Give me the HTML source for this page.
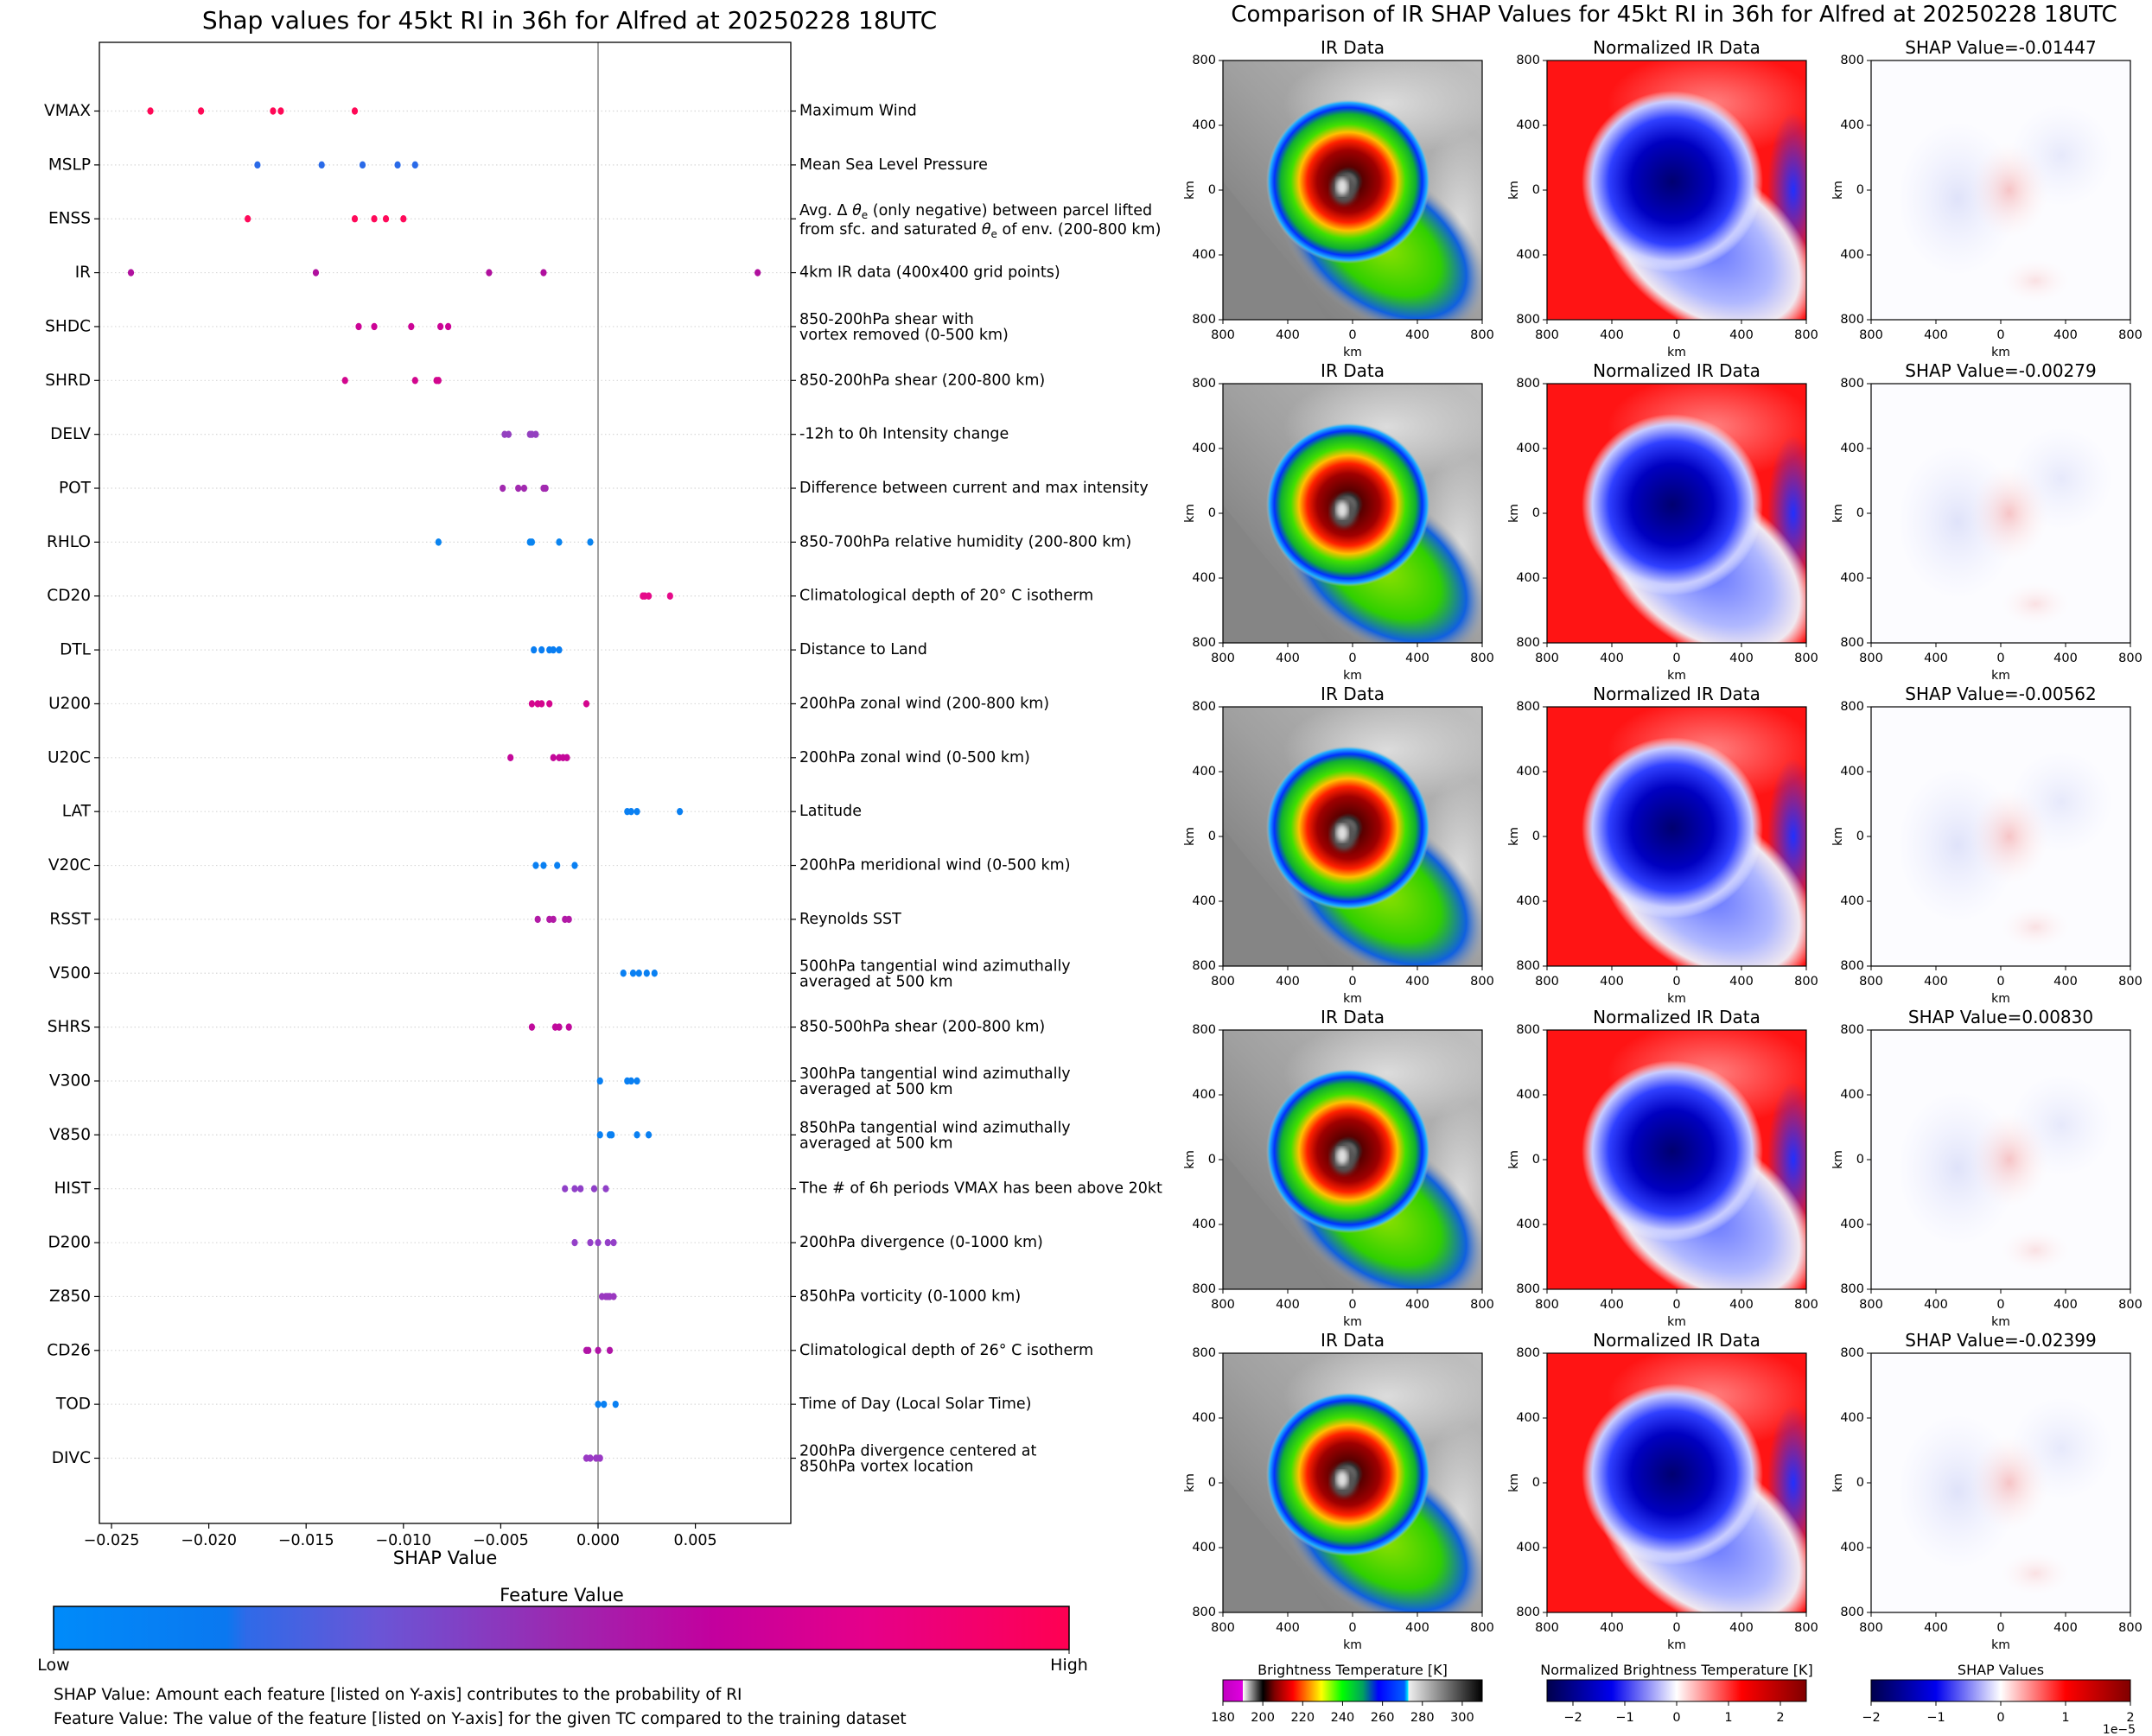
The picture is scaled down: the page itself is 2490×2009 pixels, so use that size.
<!DOCTYPE html>
<html><head><meta charset="utf-8"><style>
html,body{margin:0;padding:0;background:#fff}
svg{display:block;font-family:"DejaVu Sans","Liberation Sans",sans-serif}
</style></head><body>
<svg id="root" width="2490" height="2009" viewBox="0 0 2490 2009" xmlns="http://www.w3.org/2000/svg">
<defs>
  <clipPath id="pclip"><rect x="0" y="0" width="300" height="300"/></clipPath>
  <filter id="soft" x="-10%" y="-10%" width="120%" height="120%"><feGaussianBlur stdDeviation="3"/></filter>
  <linearGradient id="fvGrad" x1="0" x2="1" y1="0" y2="0">
    <stop offset="0" stop-color="#008bfa"/><stop offset="0.17" stop-color="#0a78f0"/><stop offset="0.19" stop-color="#2f6ae8"/>
    <stop offset="0.32" stop-color="#6a55d6"/><stop offset="0.5" stop-color="#9c28b0"/><stop offset="0.65" stop-color="#c3009e"/>
    <stop offset="0.8" stop-color="#e5008a"/><stop offset="1" stop-color="#ff0052"/>
  </linearGradient>
  <linearGradient id="irCb" x1="0" x2="1">
    <stop offset="0" stop-color="#c000c0"/><stop offset="0.077" stop-color="#e000e0"/><stop offset="0.077" stop-color="#ffffff"/>
    <stop offset="0.154" stop-color="#000000"/><stop offset="0.2" stop-color="#800000"/><stop offset="0.27" stop-color="#ff0000"/>
    <stop offset="0.38" stop-color="#ffff00"/><stop offset="0.46" stop-color="#00ff00"/><stop offset="0.54" stop-color="#00a060"/>
    <stop offset="0.6" stop-color="#0000ff"/><stop offset="0.7" stop-color="#0060ff"/><stop offset="0.715" stop-color="#00ffff"/>
    <stop offset="0.715" stop-color="#f0f0f0"/><stop offset="1" stop-color="#000000"/>
  </linearGradient>
  <linearGradient id="seis" x1="0" x2="1">
    <stop offset="0" stop-color="#00004c"/><stop offset="0.25" stop-color="#0000ee"/><stop offset="0.5" stop-color="#ffffff"/>
    <stop offset="0.75" stop-color="#ff0000"/><stop offset="1" stop-color="#800000"/>
  </linearGradient>
  <linearGradient id="irBg" x1="0" y1="1" x2="1" y2="0">
    <stop offset="0" stop-color="#707070"/><stop offset="0.5" stop-color="#a0a0a0"/><stop offset="1" stop-color="#c0c0c0"/>
  </linearGradient>
  <radialGradient id="irStorm">
    <stop offset="0" stop-color="#d0d0d0"/><stop offset="0.12" stop-color="#303030"/><stop offset="0.18" stop-color="#5a0000"/>
    <stop offset="0.38" stop-color="#a00000"/><stop offset="0.5" stop-color="#ff2000"/><stop offset="0.6" stop-color="#ffc000"/>
    <stop offset="0.7" stop-color="#40e000"/><stop offset="0.82" stop-color="#10b030"/><stop offset="0.9" stop-color="#0030ff"/>
    <stop offset="0.96" stop-color="#20b0ff"/><stop offset="1" stop-color="#c0c0c0" stop-opacity="0"/>
  </radialGradient>
  <radialGradient id="irBand">
    <stop offset="0" stop-color="#90e000"/><stop offset="0.55" stop-color="#30d000"/><stop offset="0.8" stop-color="#1060e0"/>
    <stop offset="1" stop-color="#a0a0a0" stop-opacity="0"/>
  </radialGradient>
  <radialGradient id="nStorm">
    <stop offset="0" stop-color="#000070"/><stop offset="0.45" stop-color="#0000c0"/><stop offset="0.7" stop-color="#3040ff"/>
    <stop offset="0.88" stop-color="#c8ccff"/><stop offset="1" stop-color="#ffffff" stop-opacity="0"/>
  </radialGradient>
  <radialGradient id="nBand">
    <stop offset="0" stop-color="#6070ff"/><stop offset="0.6" stop-color="#b0b8ff"/><stop offset="0.85" stop-color="#f0e8f0"/>
    <stop offset="1" stop-color="#ffffff" stop-opacity="0"/>
  </radialGradient>
  <radialGradient id="sRed"><stop offset="0" stop-color="#f4a0a0"/><stop offset="1" stop-color="#ffe8e8" stop-opacity="0"/></radialGradient>
  <radialGradient id="sBlue"><stop offset="0" stop-color="#d8dcf8"/><stop offset="1" stop-color="#e8eaff" stop-opacity="0"/></radialGradient>
  <radialGradient id="fadeW"><stop offset="0" stop-color="#dcdcdc"/><stop offset="1" stop-color="#dcdcdc" stop-opacity="0"/></radialGradient>
  <radialGradient id="fadeR"><stop offset="0" stop-color="#ff8080"/><stop offset="1" stop-color="#ff8080" stop-opacity="0"/></radialGradient>
  <radialGradient id="fadeB"><stop offset="0" stop-color="#2030ff"/><stop offset="1" stop-color="#2030ff" stop-opacity="0"/></radialGradient>
  <g id="irImg" clip-path="url(#pclip)">
    <rect x="0" y="0" width="300" height="300" fill="url(#irBg)"/>
    <path d="M0,140 L40,190 L90,250 L120,300 L0,300 Z" fill="#858585"/>
    <ellipse cx="190" cy="50" rx="120" ry="60" fill="url(#fadeW)"/>
    <ellipse cx="275" cy="190" rx="50" ry="110" fill="url(#fadeW)"/>
    <ellipse cx="185" cy="215" rx="135" ry="85" transform="rotate(35 185 215)" fill="url(#irBand)"/>
    <circle cx="145" cy="140" r="95" fill="url(#irStorm)"/>
    <ellipse cx="140" cy="148" rx="15" ry="18" fill="#555" filter="url(#soft)"/>
    <ellipse cx="138" cy="146" rx="7" ry="10" fill="#e0e0e0" filter="url(#soft)"/>
  </g>
  <g id="nImg" clip-path="url(#pclip)">
    <rect x="0" y="0" width="300" height="300" fill="#ff1414"/>
    <ellipse cx="190" cy="50" rx="120" ry="60" fill="url(#fadeR)"/>
    <ellipse cx="285" cy="150" rx="30" ry="90" fill="url(#fadeB)"/>
    <ellipse cx="185" cy="215" rx="140" ry="90" transform="rotate(35 185 215)" fill="url(#nBand)"/>
    <circle cx="145" cy="140" r="105" fill="url(#nStorm)"/>
  </g>
  <g id="sImg" clip-path="url(#pclip)">
    <rect x="0" y="0" width="300" height="300" fill="#fcfcff"/>
    <ellipse cx="100" cy="160" rx="70" ry="90" fill="url(#sBlue)" opacity="0.8"/>
    <ellipse cx="220" cy="110" rx="60" ry="60" fill="url(#sBlue)" opacity="0.6"/>
    <ellipse cx="160" cy="150" rx="45" ry="55" fill="url(#sRed)" opacity="0.6"/>
    <ellipse cx="190" cy="255" rx="40" ry="25" fill="url(#sRed)" opacity="0.3"/>
  </g>
</defs>
<rect x="0" y="0" width="2490" height="2009" fill="#fff"/>
<text x="659" y="33" font-size="28" text-anchor="middle">Shap values for 45kt RI in 36h for Alfred at 20250228 18UTC</text>
<g id="shapChart"></g>
<g>
  <text x="650" y="1853" font-size="21" text-anchor="middle">Feature Value</text>
  <rect x="62" y="1859" width="1175" height="50" fill="url(#fvGrad)" stroke="#000" stroke-width="1.5"/>
  <line x1="62" y1="1909" x2="62" y2="1914" stroke="#000"/><line x1="1237" y1="1909" x2="1237" y2="1914" stroke="#000"/>
  <text x="62" y="1933" font-size="19" text-anchor="middle">Low</text>
  <text x="1237" y="1933" font-size="19" text-anchor="middle">High</text>
</g>
<text x="62" y="1967" font-size="18.5">SHAP Value: Amount each feature [listed on Y-axis] contributes to the probability of RI</text>
<text x="62" y="1995" font-size="18.5">Feature Value: The value of the feature [listed on Y-axis] for the given TC compared to the training dataset</text>
<text x="1937" y="25" font-size="26" text-anchor="middle">Comparison of IR SHAP Values for 45kt RI in 36h for Alfred at 20250228 18UTC</text>
<g id="panels"></g>
<g>
  <text x="1565" y="1938" font-size="16" text-anchor="middle">Brightness Temperature [K]</text>
  <rect x="1415" y="1944" width="300" height="25" fill="url(#irCb)" stroke="#000"/>
  <text x="1940" y="1938" font-size="16" text-anchor="middle">Normalized Brightness Temperature [K]</text>
  <rect x="1790" y="1944" width="300" height="25" fill="url(#seis)" stroke="#000"/>
  <text x="2315" y="1938" font-size="16" text-anchor="middle">SHAP Values</text>
  <rect x="2165" y="1944" width="300" height="25" fill="url(#seis)" stroke="#000"/>
  <text x="2452" y="2006" font-size="14" text-anchor="middle">1e−5</text>
  <g id="cbTicks"></g>
</g>
<script>
const features = ["VMAX","MSLP","ENSS","IR","SHDC","SHRD","DELV","POT","RHLO","CD20","DTL","U200","U20C","LAT","V20C","RSST","V500","SHRS","V300","V850","HIST","D200","Z850","CD26","TOD","DIVC"];
const descriptions = [["Maximum Wind"],["Mean Sea Level Pressure"],["ENSS1","ENSS2"],["4km IR data (400x400 grid points)"],["850-200hPa shear with","vortex removed (0-500 km)"],["850-200hPa shear (200-800 km)"],["-12h to 0h Intensity change"],["Difference between current and max intensity"],["850-700hPa relative humidity (200-800 km)"],["Climatological depth of 20° C isotherm"],["Distance to Land"],["200hPa zonal wind (200-800 km)"],["200hPa zonal wind (0-500 km)"],["Latitude"],["200hPa meridional wind (0-500 km)"],["Reynolds SST"],["500hPa tangential wind azimuthally","averaged at 500 km"],["850-500hPa shear (200-800 km)"],["300hPa tangential wind azimuthally","averaged at 500 km"],["850hPa tangential wind azimuthally","averaged at 500 km"],["The # of 6h periods VMAX has been above 20kt"],["200hPa divergence (0-1000 km)"],["850hPa vorticity (0-1000 km)"],["Climatological depth of 26° C isotherm"],["Time of Day (Local Solar Time)"],["200hPa divergence centered at","850hPa vortex location"]];
const shapValues = [
 [-0.0230,-0.0204,-0.0167,-0.0163,-0.0125],
 [-0.0175,-0.0142,-0.0121,-0.0103,-0.0094],
 [-0.0180,-0.0125,-0.0115,-0.0109,-0.0100],
 [-0.0240,-0.0145,-0.0056,-0.0028,0.0082],
 [-0.0123,-0.0115,-0.0096,-0.0081,-0.0077],
 [-0.0130,-0.0094,-0.0083,-0.0082],
 [-0.0048,-0.0046,-0.0035,-0.0034,-0.0032],
 [-0.0049,-0.0041,-0.0038,-0.0028,-0.0027],
 [-0.0082,-0.0035,-0.0034,-0.0020,-0.0004],
 [0.0023,0.0024,0.0026,0.0037],
 [-0.0033,-0.0029,-0.0025,-0.0023,-0.0020],
 [-0.0034,-0.0031,-0.0029,-0.0025,-0.0006],
 [-0.0045,-0.0023,-0.0020,-0.0018,-0.0016],
 [0.0015,0.0017,0.0020,0.0042],
 [-0.0032,-0.0028,-0.0021,-0.0012],
 [-0.0031,-0.0025,-0.0023,-0.0017,-0.0015],
 [0.0013,0.0018,0.0021,0.0025,0.0029],
 [-0.0034,-0.0022,-0.0020,-0.0015],
 [0.0001,0.0015,0.0017,0.0020],
 [0.0001,0.0006,0.0007,0.0020,0.0026],
 [-0.0017,-0.0012,-0.0009,-0.0002,0.0004],
 [-0.0012,-0.0004,0.0000,0.0005,0.0008],
 [0.0002,0.0004,0.0005,0.0006,0.0008],
 [-0.0006,-0.0005,0.0000,0.0006],
 [0.0000,0.0003,0.0009],
 [-0.0006,-0.0004,-0.0001,0.0001]
];
const featureColors = ["#ff0856","#2a6ae8","#ff0a5a","#b0109e","#cc0496","#d2068e","#9440c0","#a22ab0","#0a84f0","#e60a8a","#0a7ef2","#d4068e","#c4089a","#0a80f2","#0a80f2","#b21aa6","#0a80f2","#c00a9c","#0a80f2","#0a80f2","#9040c8","#9440c8","#9a38c0","#b014a6","#0a80f2","#9a3ac4"];
const xTicks = [-0.025,-0.020,-0.015,-0.010,-0.005,0.000,0.005];
const xTickLabels = ["−0.025","−0.020","−0.015","−0.010","−0.005","0.000","0.005"];
const irSubplotShap = ["-0.01447","-0.00279","-0.00562","0.00830","-0.02399"];
const panelTicks = ["800","400","0","400","800"];
const irCbTicks = [180,200,220,240,260,280,300];
const normCbTicks = [-2,-1,0,1,2];
const shapCbTicks = [-2,-1,0,1,2];

const NS="http://www.w3.org/2000/svg";
function mk(tag, attrs, parent, txt){const e=document.createElementNS(NS,tag);for(const k in attrs)e.setAttribute(k,attrs[k]);if(txt!==undefined)e.textContent=txt;parent.appendChild(e);return e;}
const AX={l:115,r:915,t:49,b:1763};
const xScale=v=>692+v*22520;
const yScale=i=>128.5+i*62.36;
const chart=document.getElementById('shapChart');
features.forEach((f,i)=>{
  const y=yScale(i);
  const gl=mk('line',{x1:AX.l,x2:AX.r,y1:y,y2:y,stroke:'#d8d8d8','stroke-width':1.2,'stroke-dasharray':'1.5,3'},chart);
  
  
});
mk('line',{x1:xScale(0),x2:xScale(0),y1:AX.t,y2:AX.b,stroke:'#8a8a8a','stroke-width':1.6},chart);
function thetaLine(g,x,y,pre,post){
  const t=mk('text',{x:x,y:y,'font-size':17.5,'dominant-baseline':'central'},g);
  mk('tspan',{},t,pre);
  mk('tspan',{'font-style':'italic'},t,'θ');
  mk('tspan',{'font-size':12,dy:5},t,'e');
  mk('tspan',{dy:-5},t,post);
}
features.forEach((f,i)=>{
  const y=yScale(i);
  shapValues[i].forEach(v=>{
    const d=mk('ellipse',{cx:xScale(v),cy:y,rx:3.6,ry:4.2,fill:featureColors[i]},chart);
    
    
  });
  mk('line',{x1:AX.l-6,x2:AX.l,y1:y,y2:y,stroke:'#000','stroke-width':1.2},chart);
  const lt=mk('text',{x:AX.l-10,y:y,'font-size':18.5,'text-anchor':'end','dominant-baseline':'central'},chart,f);
  
  
  mk('line',{x1:AX.r,x2:AX.r+6,y1:y,y2:y,stroke:'#000','stroke-width':1.2},chart);
  const lines=descriptions[i];
  const g=mk('g',{},chart);
  
  
  if(f==="ENSS"){
    thetaLine(g,925,y-9,'Avg. Δ ',' (only negative) between parcel lifted');
    thetaLine(g,925,y+13,'from sfc. and saturated ',' of env. (200-800 km)');
  } else if(lines.length===2){
    mk('text',{x:925,y:y-8,'font-size':17.5,'dominant-baseline':'central'},g,lines[0]);
    mk('text',{x:925,y:y+10,'font-size':17.5,'dominant-baseline':'central'},g,lines[1]);
  } else {
    mk('text',{x:925,y:y,'font-size':17.5,'dominant-baseline':'central'},g,lines[0]);
  }
});
mk('rect',{x:AX.l,y:AX.t,width:AX.r-AX.l,height:AX.b-AX.t,fill:'none',stroke:'#000','stroke-width':1.3},chart);
xTicks.forEach((v,k)=>{
  const x=xScale(v);
  mk('line',{x1:x,x2:x,y1:AX.b,y2:AX.b+6,stroke:'#000','stroke-width':1.2},chart);
  const t=mk('text',{x:x,y:AX.b+25,'font-size':17.5,'text-anchor':'middle'},chart,xTickLabels[k]);
  
  
});
const xt=mk('text',{x:515,y:1810,'font-size':21,'text-anchor':'middle'},chart,'SHAP Value');



const panels=document.getElementById('panels');
const colX=[1415,1790,2165];
const titles=["IR Data","Normalized IR Data","SHAP"];
const imgs=["#irImg","#nImg","#sImg"];
irSubplotShap.forEach((sv,r)=>{
  const top=70+r*374;
  colX.forEach((x0,c)=>{
    const g=mk('g',{},panels);
    
    
    mk('use',{href:imgs[c],transform:'translate('+x0+' '+top+')'},g);
    mk('rect',{x:x0,y:top,width:300,height:300,fill:'none',stroke:'#000','stroke-width':1.2},g);
    const tt=c===2?('SHAP Value='+sv):titles[c];
    mk('text',{x:x0+150,y:top-8,'font-size':20,'text-anchor':'middle'},g,tt);
    panelTicks.forEach((lab,k)=>{
      const p=k*75;
      mk('line',{x1:x0-5,x2:x0,y1:top+p,y2:top+p,stroke:'#000'},g);
      mk('text',{x:x0-8,y:top+p,'font-size':14.5,'text-anchor':'end','dominant-baseline':'central'},g,lab);
      mk('line',{x1:x0+p,x2:x0+p,y1:top+300,y2:top+305,stroke:'#000'},g);
      mk('text',{x:x0+p,y:top+322,'font-size':14.5,'text-anchor':'middle'},g,lab);
    });
    mk('text',{x:x0+150,y:top+342,'font-size':14,'text-anchor':'middle'},g,'km');
    mk('text',{x:x0-38,y:top+150,'font-size':14,'text-anchor':'middle','dominant-baseline':'central',transform:'rotate(-90 '+(x0-38)+' '+(top+150)+')'},g,'km');
  });
});
const cbt=document.getElementById('cbTicks');
irCbTicks.forEach(v=>{const x=1415+(v-180)/130*300;mk('line',{x1:x,x2:x,y1:1969,y2:1974,stroke:'#000'},cbt);mk('text',{x:x,y:1992,'font-size':14.5,'text-anchor':'middle'},cbt,String(v));});
normCbTicks.forEach(v=>{const x=1940+v/2.5*150;mk('line',{x1:x,x2:x,y1:1969,y2:1974,stroke:'#000'},cbt);mk('text',{x:x,y:1992,'font-size':14.5,'text-anchor':'middle'},cbt,v<0?'−'+(-v):String(v));});
shapCbTicks.forEach(v=>{const x=2315+v/2*150;mk('line',{x1:x,x2:x,y1:1969,y2:1974,stroke:'#000'},cbt);mk('text',{x:x,y:1992,'font-size':14.5,'text-anchor':'middle'},cbt,v<0?'−'+(-v):String(v));});
</script>
</svg>
</body></html>
